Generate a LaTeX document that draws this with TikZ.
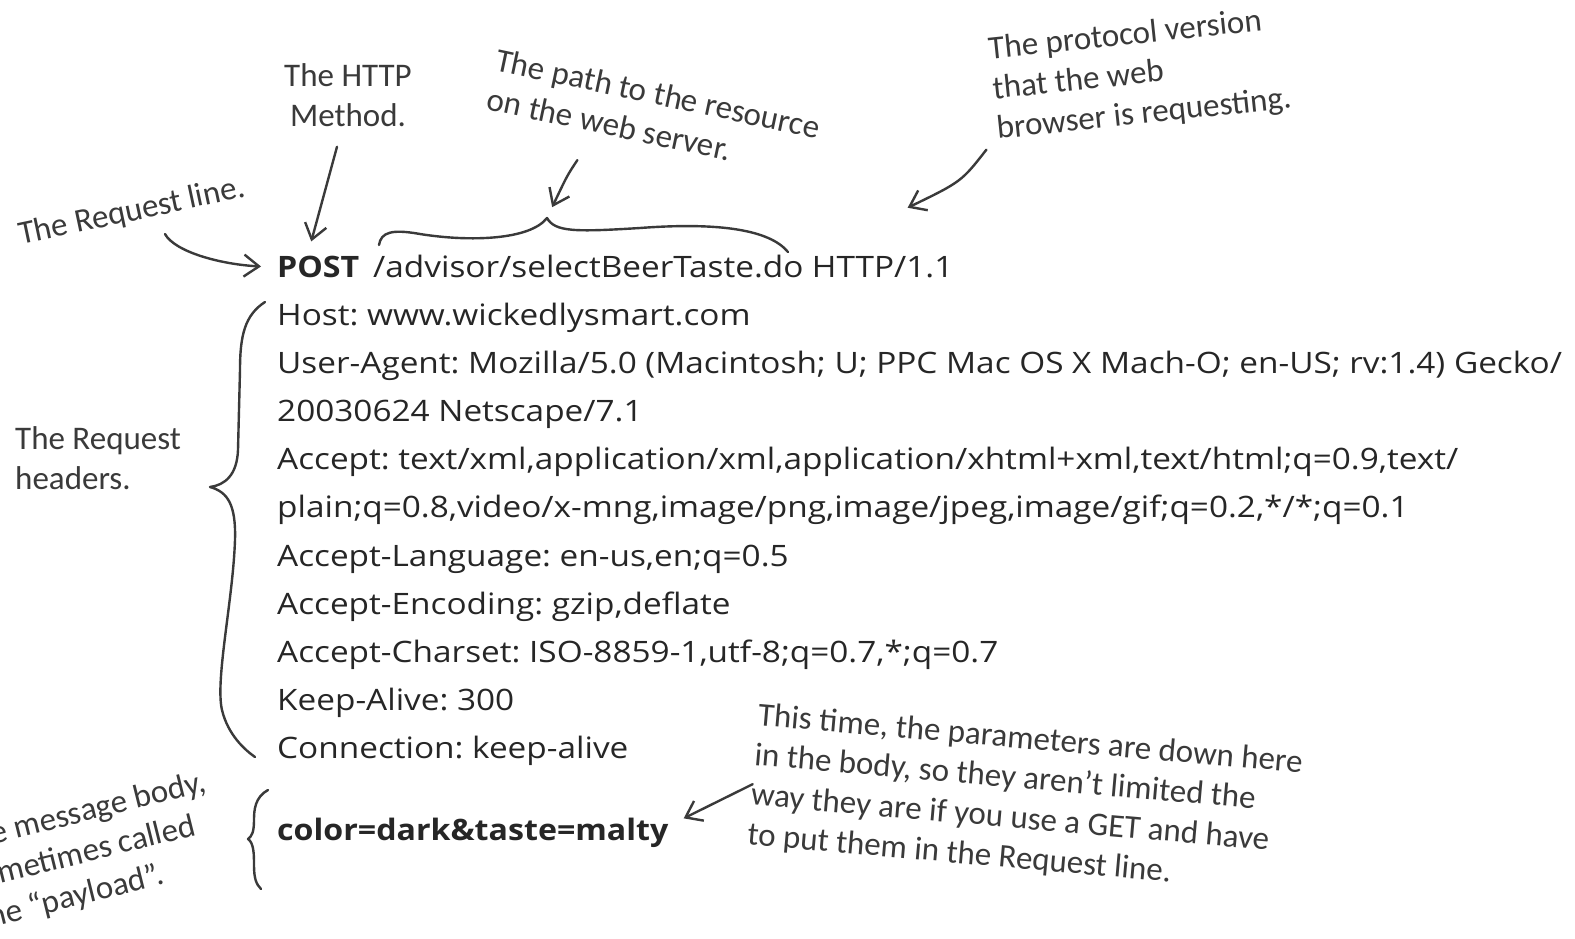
\documentclass[tikz,border=0pt]{standalone}
\usepackage{fontspec}
\setmainfont{Open Sans}[UprightFeatures={FakeStretch=1.13},BoldFeatures={FakeStretch=1.09}]
\newfontfamily\handfont{Carlito}
\usetikzlibrary{arrows.meta,positioning}
\definecolor{inkgray}{HTML}{262626}
\definecolor{pengray}{HTML}{3A3A3A}
\frenchspacing

\begin{document}
\begin{tikzpicture}[x=1pt,y=-1pt,
  txt/.style={inner sep=0pt,font=\fontsize{29.5}{34}\selectfont,text=inkgray},
  hline/.style={txt,anchor=base west},
  hand/.style={inner sep=0pt,font=\handfont\fontsize{33}{40}\selectfont,text=pengray},
  pen/.style={draw=pengray,line width=2.4pt,line cap=round,line join=round},
  arrow/.style={pen,-{Straight Barb[length=15pt,width=22pt]}}
]
\fill[white] (0,0) rectangle (1575,938);
\useasboundingbox (0,0) rectangle (1575,938);
\clip (0,0) rectangle (1575,938);

% request line
\node[hline] (post) at (277,277) {\textbf{POST}};
\node[hline] (uri) at (373,277) {/advisor/selectBeerTaste.do};
\node[right=8pt of uri.base east,hline] (proto) {HTTP/1.1};

% headers
\node[hline] (host) at (277,325) {Host: www.wickedlysmart.com};
\node[below=48.2pt of host.base west,hline] (ua) {User-Agent: Mozilla/5.0 (Macintosh; U; PPC Mac OS X Mach-O; en-US; rv:1.4) Gecko/};
\node[below=48.2pt of ua.base west,hline] (uacont) {20030624 Netscape/7.1};
\node[below=48.2pt of uacont.base west,hline] (accept) {Accept: text/xml,application/xml,application/xhtml+xml,text/html;q=0.9,text/};
\node[below=48.2pt of accept.base west,hline] (acceptcont) {plain;q=0.8,video/x-mng,image/png,image/jpeg,image/gif;q=0.2,*/*;q=0.1};
\node[below=48.2pt of acceptcont.base west,hline] (lang) {Accept-Language: en-us,en;q=0.5};
\node[below=48.2pt of lang.base west,hline] (enc) {Accept-Encoding: gzip,deflate};
\node[below=48.2pt of enc.base west,hline] (charset) {Accept-Charset: ISO-8859-1,utf-8;q=0.7,*;q=0.7};
\node[below=48.2pt of charset.base west,hline] (alive) {Keep-Alive: 300};
\node[below=48.2pt of alive.base west,hline] (conn) {Connection: keep-alive};

% body
\node[hline] (body) at (277,840) {\textbf{color=dark\&taste=malty}};

% notes
\node[hand,align=center] (method) at (348,95) {The HTTP\\Method.};
\node[hand,align=left,rotate=-12] (pathnote) at (654,113) {The path to the resource\\on the web server.};
\node[hand,align=left,rotate=6] (protonote) at (1140,75) {The protocol version\\that the web\\browser is requesting.};
\node[hand,rotate=12] (reqnote) at (132,212) {The Request line.};
\node[hand,align=left,anchor=west] (hdrnote) at (15,458) {The Request\\headers.};
\node[hand,align=left,rotate=14] (bodynote) at (92,852) {The message body,\\sometimes called\\the “payload”.};
\node[hand,align=left,rotate=-5] (paramnote) at (1025,800) {This time, the parameters are down here\\in the body, so they aren’t limited the\\way they are if you use a GET and have\\to put them in the Request line.};

% braces
\coordinate (uritop) at (547,218);
\draw[pen] (379,245) .. controls (381,232) and (392,229) .. (420,234)
  .. controls (470,242) and (530,240) .. (uritop)
  .. controls (555,232) and (575,232) .. (640,228)
  .. controls (720,222) and (770,230) .. (788,252);
\draw[pen] (265,302) .. controls (245,315) and (240,335) .. (240,370) -- (238,450)
  .. controls (237,475) and (225,485) .. (210,487)
  .. controls (228,492) and (236,505) .. (235,540)
  .. controls (233,600) and (215,680) .. (222,710)
  .. controls (228,735) and (245,750) .. (255,757);
\draw[pen] (268,790) .. controls (255,797) and (254,810) .. (254,820)
  .. controls (254,832) and (252,836) .. (248,839)
  .. controls (254,843) and (254,855) .. (254,865)
  .. controls (254,878) and (256,884) .. (261,889);

% arrows
\draw[arrow] ([xshift=30pt,yshift=-8pt]reqnote.south) .. controls +(10,18) and +(-40,-2) .. ([xshift=-16pt]post.west);
\draw[arrow] ([xshift=-11pt,yshift=-20pt]method.south) -- ([xshift=-7pt,yshift=14pt]post.north);
\draw[arrow,shorten >=12pt] ([xshift=-70pt,yshift=-16pt]pathnote.south) .. controls +(-10,15) .. (uritop);
\draw[arrow] ([xshift=-12pt,yshift=-5pt]protonote.south west) .. controls +(-25,32) .. ([xshift=25pt,yshift=48pt]proto.north);
\draw[arrow] ([yshift=-8pt]paramnote.west) -- ([xshift=15pt,yshift=14pt]body.east);
\end{tikzpicture}
\end{document}
